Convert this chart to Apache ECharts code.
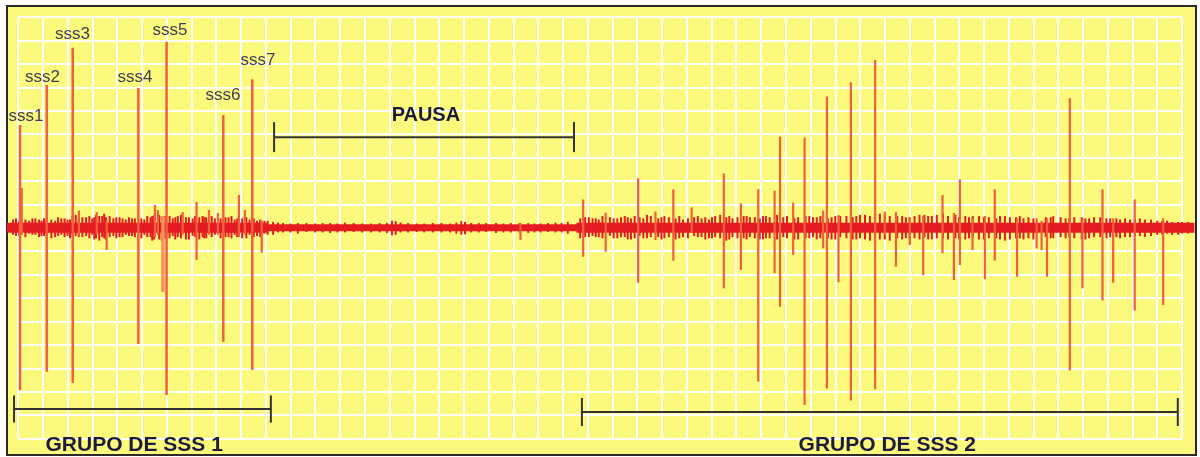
<!DOCTYPE html>
<html>
<head>
<meta charset="utf-8">
<script src="https://cdn.jsdelivr.net/npm/echarts@6/dist/echarts.min.js"></script>
<style>
html,body{margin:0;padding:0;background:#fff;}
#c{width:1200px;height:457px;}
</style>
</head>
<body>
<div id="c"></div>
<script>
// ---- data (x in grid units, y in grid units; 0 = baseline) ----
const baselineX = [-0.45, 47.5];
const baselineY = [0, 0];
// stretches of busier (thicker) baseline: [xStart, xEnd]
const activeRanges = [[-0.45, 10.1], [22.55, 47.5]];

// labelled single-spike events of group 1: [x, up, down]
const sssSpikes = [
  [0.08, 4.39, -6.93],
  [1.16, 6.10, -6.15],
  [2.21, 7.69, -6.63],
  [4.86, 5.97, -4.96],
  [6.00, 7.94, -7.14],
  [8.29, 4.81, -4.87],
  [9.46, 6.34, -6.07]
];

// other spikes (group 1, pause and group 2): [x, up, down]
const otherSpikes = [
  [0.15, 1.70, -0.30], [2.46, 0.73, -0.30], [3.18, 0.67, -0.30], [3.58, 0.30, -0.95],
  [5.53, 0.97, -0.40], [5.65, 0.76, -0.30], [6.65, 0.67, -0.30], [7.21, 1.10, -1.38],
  [7.71, 0.76, -0.30], [8.07, 0.63, -0.30], [8.92, 1.40, -0.40], [9.16, 0.76, -0.30],
  [9.84, 0.30, -1.06],
  [20.29, 0.20, -0.52],
  [22.82, 1.21, -1.24], [23.73, 0.64, -1.02], [25.04, 2.11, -2.35], [25.74, 0.69, -0.52],
  [26.46, 1.64, -1.41], [27.20, 0.87, -0.22], [28.50, 2.32, -2.59], [29.19, 1.04, -1.80],
  [29.89, 1.65, -6.57], [30.55, 1.58, -1.94], [30.77, 3.89, -3.37], [31.30, 1.07, -1.16],
  [31.76, 3.85, -7.57], [32.51, 0.73, -0.88], [32.66, 5.60, -6.86], [33.13, 0.54, -2.33],
  [33.63, 6.21, -7.38], [34.61, 7.16, -6.90], [35.00, 0.69, -0.30], [35.45, 0.67, -1.66],
  [36.01, 0.40, -0.74], [36.55, 0.50, -2.02], [37.33, 1.40, -1.09], [37.79, 0.63, -2.23],
  [38.03, 2.07, -1.59], [38.54, 0.40, -0.95], [39.04, 0.50, -2.20], [39.44, 1.64, -1.41],
  [40.34, 0.40, -2.09], [41.13, 0.40, -0.88], [41.33, 0.30, -0.95], [41.55, 0.40, -2.09],
  [42.47, 5.53, -6.10], [42.98, 0.40, -2.59], [43.79, 1.64, -3.11], [44.22, 0.40, -2.35],
  [45.09, 1.21, -3.54], [46.24, 0.40, -3.30]
];

// paler, wider deflection in group 1
const paleSpikes = [
  [5.85, 0.50, -2.74]
];

// baseline noise: [x, up, down]
const noise = [
  [-0.2,0.35,0.3],[0.05,0.3,0.35],[0.45,0.3,0.25],[0.7,0.4,0.3],[0.95,0.3,0.35],[1.15,0.35,0.3],
  [1.5,0.3,0.4],[1.75,0.4,0.3],[2.0,0.35,0.35],[2.2,0.5,0.3],[2.45,0.4,0.4],[2.75,0.45,0.35],
  [3.0,0.4,0.3],[3.15,0.55,0.45],[3.4,0.5,0.4],[3.55,0.45,0.5],[3.85,0.4,0.35],[4.1,0.45,0.4],
  [4.35,0.35,0.3],[4.6,0.4,0.35],[5.1,0.35,0.3],[5.35,0.45,0.4],[5.5,0.55,0.5],[5.8,0.5,0.55],
  [6.25,0.4,0.35],[6.45,0.5,0.4],[6.9,0.45,0.5],[7.05,0.4,0.35],[7.45,0.5,0.4],[7.6,0.45,0.45],
  [7.95,0.4,0.3],[8.5,0.45,0.4],[8.75,0.35,0.3],[9.05,0.4,0.45],[9.35,0.35,0.3],[9.65,0.3,0.35],
  [9.95,0.3,0.25],
  [10.3,0.25,0.3],[10.7,0.2,0.2],[11.3,0.2,0.25],[12.0,0.18,0.2],[12.6,0.2,0.22],[13.2,0.22,0.2],
  [13.9,0.18,0.2],[14.6,0.2,0.2],[15.1,0.3,0.32],[15.25,0.28,0.3],[16.4,0.18,0.2],[17.1,0.2,0.2],
  [17.9,0.28,0.3],[18.05,0.25,0.28],[18.6,0.2,0.2],[19.3,0.2,0.22],[19.9,0.2,0.2],[20.6,0.2,0.22],
  [21.1,0.18,0.2],[21.7,0.22,0.2],[22.2,0.25,0.25],
  [22.9,0.45,0.4],[23.2,0.4,0.35],[23.45,0.35,0.4],[23.9,0.45,0.35],[24.2,0.4,0.45],[24.5,0.5,0.4],
  [24.75,0.4,0.5],[25.1,0.45,0.35],[25.4,0.55,0.45],[25.85,0.4,0.4],[26.1,0.5,0.45],[26.55,0.4,0.5],
  [26.85,0.35,0.4],[27.3,0.45,0.35],[27.6,0.4,0.4],[27.9,0.35,0.45],[28.15,0.5,0.4],[28.6,0.45,0.55],
  [28.85,0.4,0.4],[29.3,0.5,0.45],[29.55,0.45,0.4],[29.95,0.4,0.5],[30.2,0.5,0.45],[30.9,0.45,0.4],
  [31.35,0.4,0.5],[31.8,0.5,0.45],[32.1,0.45,0.4],[32.7,0.4,0.45],[33.2,0.5,0.4],[33.7,0.45,0.5],
  [34.0,0.55,0.45],[34.6,0.6,0.5],[35.0,0.55,0.5],[35.5,0.5,0.45],[36.0,0.45,0.5],[36.6,0.55,0.4],
  [36.9,0.5,0.5],[37.35,0.6,0.45],[38.0,0.45,0.5],[38.55,0.5,0.4],[39.0,0.45,0.5],[39.5,0.4,0.45],
  [39.85,0.5,0.55],[40.3,0.45,0.45],[40.6,0.4,0.5],[41.5,0.45,0.4],[41.8,0.5,0.45],[42.45,0.4,0.4],
  [42.95,0.45,0.5],[43.25,0.4,0.45],[43.7,0.45,0.4],[44.1,0.4,0.4],[44.5,0.35,0.45],[45.1,0.4,0.35],
  [45.5,0.35,0.4],[46.2,0.3,0.3],[46.6,0.25,0.3],[47.0,0.25,0.25]
];

// more baseline noise, between the ticks above: [x, up, down]
const noiseB = [
  [-0.08,0.4,0.35],[0.3,0.35,0.4],[0.58,0.4,0.3],[0.85,0.35,0.4],[1.05,0.4,0.35],[1.35,0.35,0.45],
  [1.62,0.45,0.35],[1.88,0.4,0.4],[2.1,0.35,0.45],[2.33,0.55,0.35],[2.6,0.45,0.4],[2.88,0.5,0.45],
  [3.08,0.45,0.5],[3.28,0.5,0.55],[3.48,0.6,0.45],[3.7,0.5,0.4],[3.97,0.45,0.45],[4.22,0.4,0.4],
  [4.48,0.45,0.35],[4.72,0.4,0.4],[4.98,0.4,0.45],[5.22,0.5,0.4],[5.42,0.5,0.55],[5.7,0.55,0.5],
  [5.95,0.5,0.45],[6.12,0.5,0.45],[6.35,0.45,0.5],[6.58,0.55,0.45],[6.78,0.45,0.5],[7.15,0.5,0.4],
  [7.32,0.45,0.5],[7.52,0.45,0.45],[7.82,0.5,0.4],[8.18,0.4,0.45],[8.38,0.45,0.4],[8.62,0.5,0.45],
  [8.85,0.4,0.4],[9.22,0.45,0.45],[9.52,0.4,0.4],[9.78,0.35,0.4],[10.08,0.3,0.3],
  [10.5,0.22,0.2],[11.0,0.18,0.2],[11.65,0.2,0.18],[12.3,0.2,0.2],[12.9,0.18,0.2],[13.55,0.2,0.18],
  [14.25,0.18,0.2],[14.9,0.2,0.22],[15.45,0.22,0.2],[15.75,0.2,0.2],[16.1,0.18,0.18],[16.75,0.2,0.2],
  [17.45,0.18,0.2],[17.7,0.22,0.25],[18.3,0.2,0.2],[18.9,0.2,0.18],[19.6,0.18,0.2],[20.25,0.2,0.2],
  [20.85,0.18,0.2],[21.4,0.2,0.18],[21.95,0.2,0.2],
  [22.7,0.4,0.45],[23.05,0.45,0.4],[23.33,0.4,0.4],[23.6,0.5,0.45],[24.05,0.4,0.45],[24.35,0.45,0.4],
  [24.62,0.45,0.5],[24.9,0.5,0.45],[25.25,0.4,0.45],[25.55,0.5,0.4],[25.98,0.45,0.5],[26.28,0.45,0.4],
  [26.7,0.5,0.45],[27.05,0.4,0.45],[27.45,0.5,0.4],[27.75,0.45,0.5],[28.02,0.45,0.45],[28.35,0.55,0.45],
  [28.72,0.5,0.5],[29.05,0.45,0.45],[29.42,0.5,0.5],[29.75,0.45,0.45],[30.08,0.5,0.5],[30.35,0.45,0.45],
  [30.65,0.55,0.5],[31.05,0.5,0.45],[31.5,0.45,0.5],[31.95,0.5,0.45],[32.25,0.45,0.5],[32.4,0.5,0.45],
  [32.85,0.45,0.5],[33.0,0.5,0.5],[33.45,0.5,0.45],[33.85,0.5,0.5],[34.2,0.55,0.5],[34.4,0.5,0.55],
  [34.8,0.6,0.5],[35.2,0.5,0.55],[35.7,0.5,0.5],[35.85,0.45,0.45],[36.2,0.5,0.45],[36.4,0.55,0.5],
  [36.75,0.5,0.5],[37.1,0.55,0.45],[37.55,0.5,0.5],[37.85,0.55,0.45],[38.25,0.5,0.5],[38.4,0.45,0.45],
  [38.8,0.5,0.5],[39.2,0.45,0.45],[39.65,0.5,0.5],[40.05,0.45,0.5],[40.45,0.5,0.45],[40.8,0.45,0.45],
  [41.0,0.4,0.5],[41.7,0.45,0.45],[42.1,0.45,0.4],[42.3,0.4,0.45],[42.65,0.45,0.45],[43.1,0.4,0.5],
  [43.45,0.45,0.4],[43.95,0.4,0.45],[44.35,0.4,0.4],[44.7,0.4,0.4],[44.9,0.35,0.4],[45.3,0.4,0.35],
  [45.75,0.35,0.35],[46.0,0.3,0.3],[46.4,0.3,0.25],[46.85,0.25,0.3],[47.25,0.25,0.25]
];

// spike labels
const sssLabels = ['sss1','sss2','sss3','sss4','sss5','sss6','sss7'];
const sssLabelX = [0.32, 0.99, 2.20, 4.72, 6.14, 8.28, 9.69];
const sssLabelY = [4.77, 6.44, 8.27, 6.44, 8.44, 5.67, 7.16];

// brackets: [xStart, xEnd, y, tickHalf]
const bracketNames = ['PAUSA', 'GRUPO DE SSS 1', 'GRUPO DE SSS 2'];
const brackets = [
  [10.34, 22.45, 3.87, 0.64],
  [-0.16, 10.21, -7.74, 0.58],
  [22.77, 46.83, -7.87, 0.60]
];
const bracketLabelX = [16.47, 4.69, 35.10];
const bracketLabelY = [4.81, -9.28, -9.28];
const bracketFontSize = [20, 21, 21];

// ---- chart ----
const chart = echarts.init(document.getElementById('c'), null, {renderer: 'canvas'});

function spikeRenderer(color, width) {
  return function (params, api) {
    const x = api.value(0), up = api.value(1), dn = api.value(2);
    const p1 = api.coord([x, up]);
    const p2 = api.coord([x, dn]);
    return {
      type: 'line',
      shape: {x1: p1[0], y1: p1[1], x2: p2[0], y2: p2[1]},
      style: {stroke: color, lineWidth: width}
    };
  };
}

const signed = arr => arr.map(d => [d[0], d[1], -d[2]]);
const TRACE = '#E51B22';

const option = {
  animation: false,
  backgroundColor: '#ffffff',
  graphic: [{
    type: 'rect',
    z: -10,
    shape: {x: 7, y: 6, width: 1189, height: 449},
    style: {fill: '#FCFA7C', stroke: '#2a2a2a', lineWidth: 2}
  }],
  grid: {left: 18, right: 18, top: 17, bottom: 18.5, containLabel: false},
  xAxis: {
    type: 'value', min: 0, max: 47, interval: 1,
    axisLine: {show: false}, axisTick: {show: false}, axisLabel: {show: false},
    splitLine: {show: true, lineStyle: {color: '#ffffff', width: 2}}
  },
  yAxis: {
    type: 'value', min: -9, max: 9, interval: 1,
    axisLine: {show: false}, axisTick: {show: false}, axisLabel: {show: false},
    splitLine: {show: true, lineStyle: {color: '#ffffff', width: 2}}
  },
  series: [
    {
      type: 'line', clip: false, silent: true, symbol: 'none',
      data: baselineX.map((x, i) => [x, baselineY[i]]),
      lineStyle: {color: TRACE, width: 7}, z: 3
    },
    {
      type: 'custom', clip: false, silent: true,
      encode: {x: [0, 1]},
      data: activeRanges,
      renderItem: function (params, api) {
        const a = api.coord([api.value(0), 0]), b = api.coord([api.value(1), 0]);
        return {type: 'line', shape: {x1: a[0], y1: a[1], x2: b[0], y2: b[1]},
                style: {stroke: TRACE, lineWidth: 10}};
      }, z: 3
    },
    {
      type: 'custom', clip: false, silent: true,
      encode: {x: 0, y: [1, 2]},
      data: signed(noise),
      renderItem: spikeRenderer(TRACE, 2), z: 3
    },
    {
      type: 'custom', clip: false, silent: true,
      encode: {x: 0, y: [1, 2]},
      data: signed(noiseB),
      renderItem: spikeRenderer(TRACE, 2), z: 3
    },
    {
      type: 'custom', clip: false, silent: true,
      encode: {x: 0, y: [1, 2]},
      data: paleSpikes,
      renderItem: spikeRenderer('#F5935A', 3.5), z: 4
    },
    {
      type: 'custom', clip: false, silent: true,
      encode: {x: 0, y: [1, 2]},
      data: otherSpikes,
      renderItem: spikeRenderer('#F0603F', 2.2), z: 4
    },
    {
      type: 'custom', clip: false, silent: true,
      encode: {x: 0, y: [1, 2]},
      data: sssSpikes,
      renderItem: spikeRenderer('#F0603F', 2.5), z: 4
    },
    {
      type: 'custom', clip: false, silent: true,
      encode: {x: 0, y: 1},
      data: sssLabelX.map((x, i) => [x, sssLabelY[i]]),
      renderItem: function (params, api) {
        const p = api.coord([api.value(0), api.value(1)]);
        return {
          type: 'text',
          style: {
            text: sssLabels[params.dataIndex],
            x: p[0], y: p[1],
            align: 'center', verticalAlign: 'middle',
            font: '17px "Liberation Sans", Arial, sans-serif',
            fill: '#3e3e58'
          }
        };
      }, z: 5
    },
    {
      type: 'custom', clip: false, silent: true,
      encode: {x: [0, 1], y: 2},
      data: brackets,
      renderItem: function (params, api) {
        const x1 = api.value(0), x2 = api.value(1), y = api.value(2), h = api.value(3);
        const a = api.coord([x1, y]), b = api.coord([x2, y]);
        const a1 = api.coord([x1, y + h]), a2 = api.coord([x1, y - h]);
        const b1 = api.coord([x2, y + h]), b2 = api.coord([x2, y - h]);
        const st = {stroke: '#333333', lineWidth: 2};
        return {
          type: 'group',
          children: [
            {type: 'line', shape: {x1: a[0], y1: a[1], x2: b[0], y2: b[1]}, style: st},
            {type: 'line', shape: {x1: a1[0], y1: a1[1], x2: a2[0], y2: a2[1]}, style: st},
            {type: 'line', shape: {x1: b1[0], y1: b1[1], x2: b2[0], y2: b2[1]}, style: st}
          ]
        };
      }, z: 5
    },
    {
      type: 'custom', clip: false, silent: true,
      encode: {x: 0, y: 1},
      data: bracketLabelX.map((x, i) => [x, bracketLabelY[i]]),
      renderItem: function (params, api) {
        const p = api.coord([api.value(0), api.value(1)]);
        return {
          type: 'text',
          style: {
            text: bracketNames[params.dataIndex],
            x: p[0], y: p[1],
            align: 'center', verticalAlign: 'middle',
            font: 'bold ' + bracketFontSize[params.dataIndex] + 'px "Liberation Sans", Arial, sans-serif',
            fill: '#1c1c3a'
          }
        };
      }, z: 5
    }
  ]
};
chart.setOption(option);
</script>
</body>
</html>
